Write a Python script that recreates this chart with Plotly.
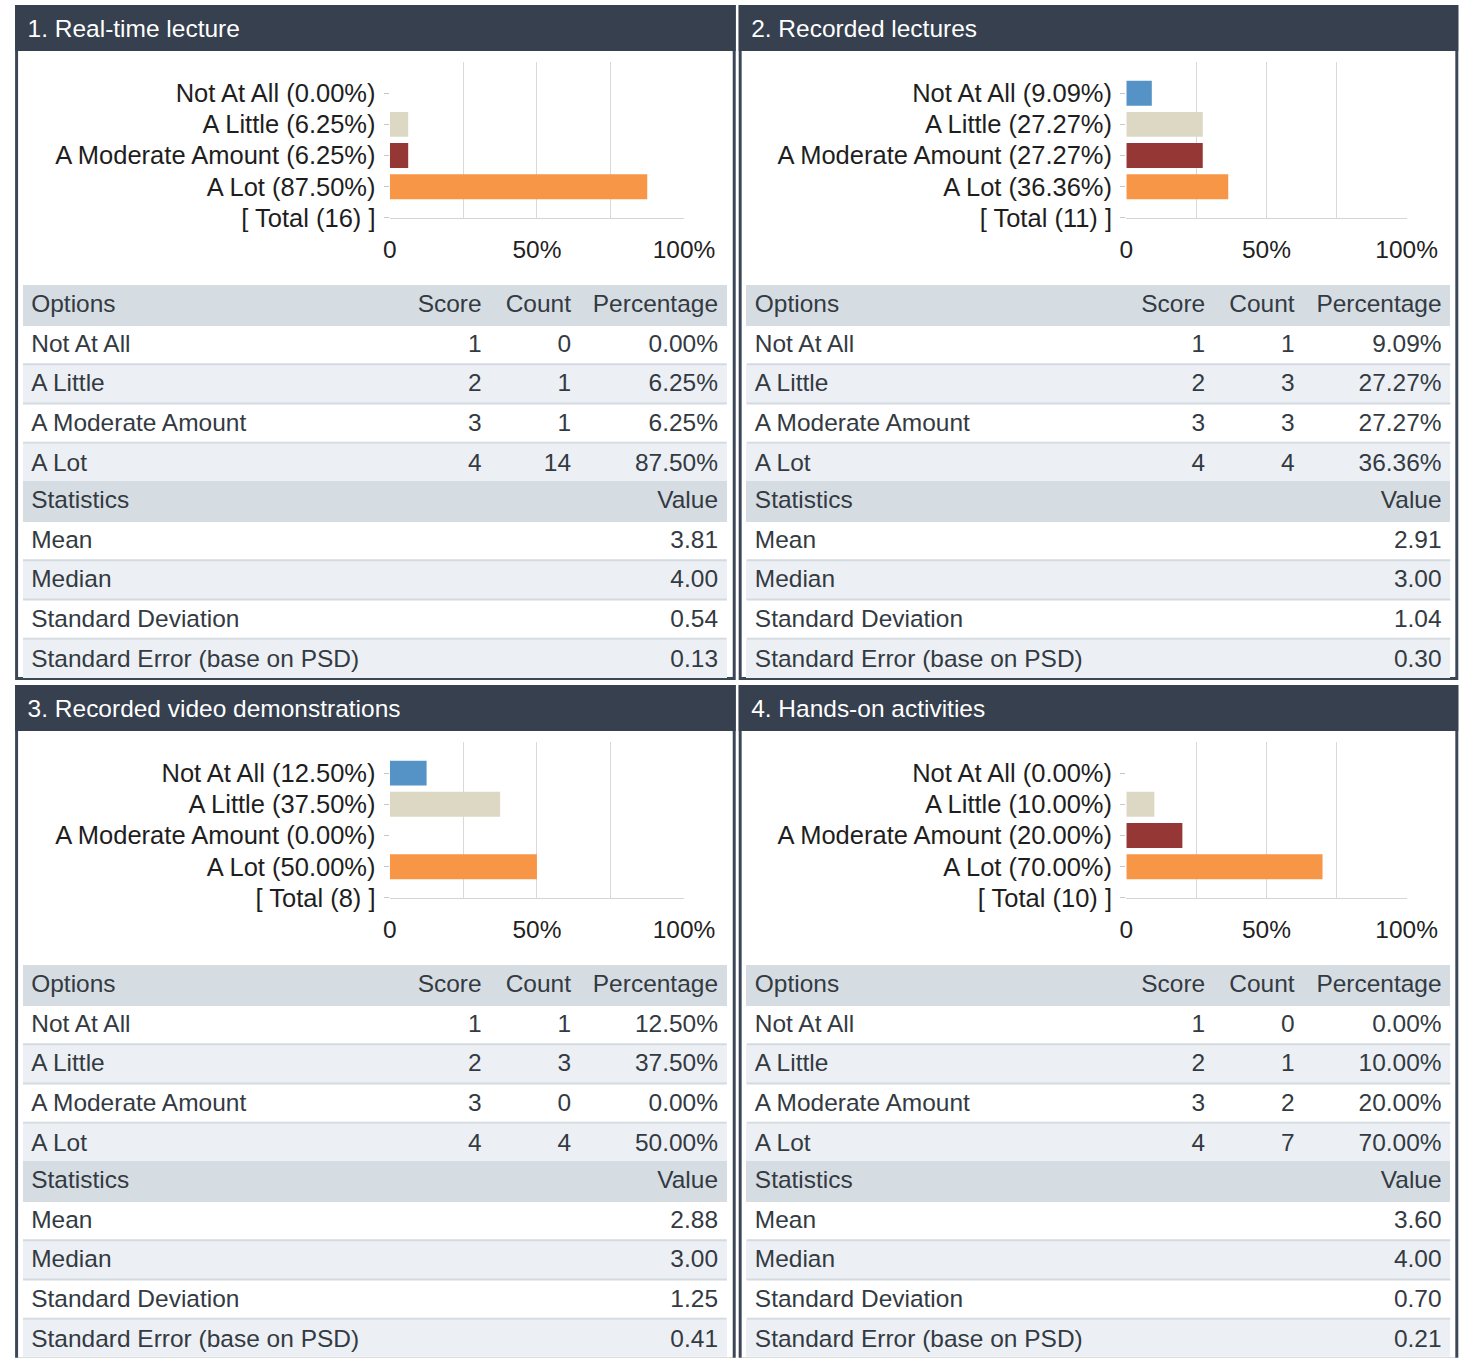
import plotly.graph_objects as go

# ---------------- data ----------------
titles = ["1. Real-time lecture", "2. Recorded lectures",
          "3. Recorded video demonstrations", "4. Hands-on activities"]
options = ["Not At All", "A Little", "A Moderate Amount", "A Lot"]
scores = [1, 2, 3, 4]
counts_q1 = [0, 1, 1, 14]
counts_q2 = [1, 3, 3, 4]
counts_q3 = [1, 3, 0, 4]
counts_q4 = [0, 1, 2, 7]
pct_q1 = [0.00, 6.25, 6.25, 87.50]
pct_q2 = [9.09, 27.27, 27.27, 36.36]
pct_q3 = [12.50, 37.50, 0.00, 50.00]
pct_q4 = [0.00, 10.00, 20.00, 70.00]
totals = [16, 11, 8, 10]
stat_names = ["Mean", "Median", "Standard Deviation", "Standard Error (base on PSD)"]
mean_vals = [3.81, 2.91, 2.88, 3.60]
median_vals = [4.00, 3.00, 3.00, 4.00]
sd_vals = [0.54, 1.04, 1.25, 0.70]
se_vals = [0.13, 0.30, 0.41, 0.21]
x_tickvals = [0, 25, 50, 75, 100]
x_ticktext = ["0", "", "50%", "", "100%"]

counts = [counts_q1, counts_q2, counts_q3, counts_q4]
pcts = [pct_q1, pct_q2, pct_q3, pct_q4]

# ---------------- style ----------------
W, H = 1460, 1358
FONT = "Liberation Sans, Arial, sans-serif"
bar_colors = ["#5592c5", "#dcd8c4", "#953735", "#f79646"]
HEAD_BG = "#36404e"
BORDER = "#3b4656"
TH_BG = "#d6dde2"
ALT_BG = "#ecf0f4"
SEP = "#d3dae0"
TXT = "#333a42"


def px(x):
    return max(0.0, min(1.0, x / W))


def py(y):
    return max(0.0, min(1.0, 1 - y / H))


fig = go.Figure()
shapes = []
annotations = []

col_x = [(8, 733), (736, 1460)]
row_y = [(5, 680), (685, 1358)]
chart_x = [(385, 681), (1126, 1408)]
ROWH = 39.2
row_fill = ["white", ALT_BG, "white", ALT_BG]

for q in range(4):
    r, c = divmod(q, 2)
    X0, X1 = col_x[c]
    Y0, Y1 = row_y[r]
    dx = 0 if c == 0 else 728
    dy = 0 if r == 0 else 680

    # panel frame, white body and dark header band
    shapes.append(dict(type="rect", xref="paper", yref="paper",
                       x0=px(X0), x1=px(X1), y0=py(Y1), y1=py(Y0),
                       line=dict(width=0), fillcolor=BORDER, layer="below"))
    bottom_in = Y1 - 3 if r == 0 else Y1
    shapes.append(dict(type="rect", xref="paper", yref="paper",
                       x0=px(X0 + 3), x1=px(X1 - 3), y0=py(bottom_in), y1=py(Y0 + 3),
                       line=dict(width=0), fillcolor="white", layer="below"))
    shapes.append(dict(type="rect", xref="paper", yref="paper",
                       x0=px(X0), x1=px(X1), y0=py(Y0 + 46), y1=py(Y0),
                       line=dict(width=0), fillcolor=HEAD_BG, layer="below"))
    annotations.append(dict(text=titles[q], xref="paper", yref="paper",
                            x=px(18 + dx), y=py(Y0 + 24), xanchor="left", yanchor="middle",
                            showarrow=False, font=dict(family=FONT, size=24, color="white")))

    # horizontal bar chart
    ax = "" if q == 0 else str(q + 1)
    labels = [f"{o} ({p:.2f}%)" for o, p in zip(options, pcts[q])] + [f"[ Total ({totals[q]}) ]"]
    fig.add_trace(go.Bar(orientation="h", x=pcts[q], y=[0, 1, 2, 3],
                         marker=dict(color=bar_colors, line=dict(width=0)), width=0.8,
                         xaxis="x" + ax, yaxis="y" + ax, showlegend=False, hoverinfo="x+y"))
    cx0, cx1 = chart_x[c]
    fig.layout["xaxis" + ax] = dict(
        domain=[px(cx0), px(cx1)], anchor="y" + ax, range=[0, 100],
        tickvals=x_tickvals, ticktext=x_ticktext, showgrid=True, gridcolor="#d9d9d9",
        gridwidth=1, zeroline=False, showline=True, linecolor="#d4d4d4", linewidth=1,
        ticks="", ticklabelstandoff=10, fixedrange=True,
        tickfont=dict(family=FONT, size=24, color="#222222"))
    fig.layout["yaxis" + ax] = dict(
        domain=[py(218 + dy), py(62 + dy)], anchor="x" + ax, range=[4.001, -1],
        tickvals=[0, 1, 2, 3, 4], ticktext=labels, showgrid=False, zeroline=False,
        showline=False, ticks="outside", ticklen=5, tickcolor="#c8c8c8",
        ticklabelstandoff=3, fixedrange=True,
        tickfont=dict(family=FONT, size=25, color="#1e1e1e"))

    # options table
    T1 = 286 + dy
    tx0, tx1 = 16 + dx, 724 + dx
    fig.add_trace(go.Table(
        domain=dict(x=[px(tx0), px(tx1)], y=[py(T1 + 5 * ROWH + 0.6), py(T1)]),
        columnwidth=[380, 90, 90, 148],
        header=dict(values=["Options", "Score", "Count", "Percentage"],
                    align=["left", "right", "right", "right"], height=ROWH,
                    fill=dict(color=TH_BG), line=dict(width=1, color=TH_BG),
                    font=dict(family=FONT, size=24, color=TXT)),
        cells=dict(values=[options, [str(s) for s in scores], [str(n) for n in counts[q]],
                           [f"{p:.2f}%" for p in pcts[q]]],
                   align=["left", "right", "right", "right"], height=ROWH,
                   fill=dict(color=[row_fill] * 4),
                   line=dict(width=1, color=[row_fill] * 4),
                   font=dict(family=FONT, size=24, color=TXT))))
    # statistics table
    T2 = T1 + 5 * ROWH
    bottom = min(T2 + 5 * ROWH + 0.6, H)
    fig.add_trace(go.Table(
        domain=dict(x=[px(tx0), px(tx1)], y=[py(bottom), py(T2)]),
        columnwidth=[560, 148],
        header=dict(values=["Statistics", "Value"], align=["left", "right"], height=ROWH,
                    fill=dict(color=TH_BG), line=dict(width=1, color=TH_BG),
                    font=dict(family=FONT, size=24, color=TXT)),
        cells=dict(values=[stat_names,
                           [f"{v:.2f}" for v in (mean_vals[q], median_vals[q], sd_vals[q], se_vals[q])]],
                   align=["left", "right"], height=ROWH,
                   fill=dict(color=[row_fill] * 2),
                   line=dict(width=1, color=[row_fill] * 2),
                   font=dict(family=FONT, size=24, color=TXT))))
    # row separators
    for T in (T1, T2):
        for k in (2, 3, 4):
            yy = T + k * ROWH
            shapes.append(dict(type="line", xref="paper", yref="paper",
                               x0=px(tx0), x1=px(tx1), y0=py(yy), y1=py(yy),
                               line=dict(color=SEP, width=2), layer="above"))

fig.update_layout(width=W, height=H, margin=dict(l=0, r=0, t=0, b=0),
                  paper_bgcolor="white", plot_bgcolor="white",
                  shapes=shapes, annotations=annotations, bargap=0.2,
                  font=dict(family=FONT))

pin = ("document.documentElement.style.margin='0';document.body.style.margin='0';"
       "var g=document.getElementsByClassName('plotly-graph-div')[0];"
       "g.style.position='fixed';g.style.left='0px';g.style.top='0px';"
       "g.style.transformOrigin='0 0';g.style.transform='scale(1.0205,1.0103)';")
fig.write_html("out.html", config={"displayModeBar": False, "responsive": False},
               post_script=pin)
